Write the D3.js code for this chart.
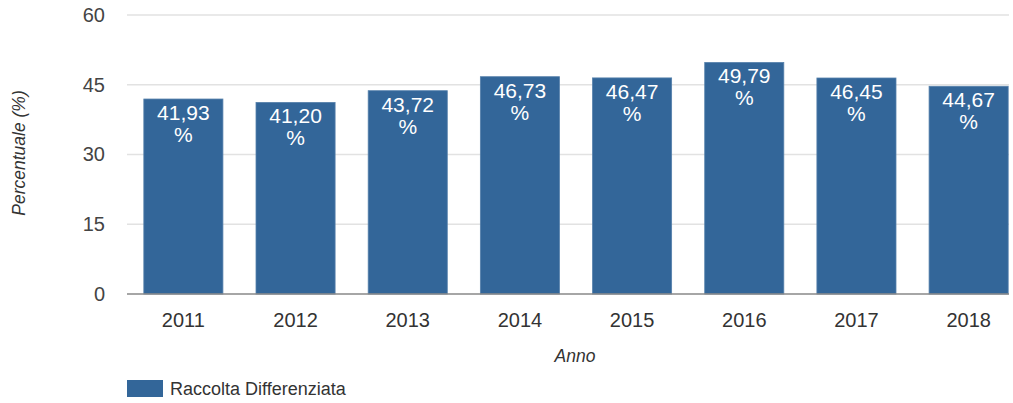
<!DOCTYPE html>
<html>
<head>
<meta charset="utf-8">
<script src="https://cdn.jsdelivr.net/npm/d3@7"></script>
<style>
  html, body { margin: 0; padding: 0; background: #fff; }
  svg { display: block; font-family: "Liberation Sans", Arial, sans-serif; }
</style>
</head>
<body>
<svg id="chart" width="1013" height="403"></svg>
<script>
// Percentuale di raccolta differenziata per anno
const years = ["2011", "2012", "2013", "2014", "2015", "2016", "2017", "2018"];
const values = [41.93, 41.20, 43.72, 46.73, 46.47, 49.79, 46.45, 44.67];
const yTicks = [0, 15, 30, 45, 60];
const seriesName = "Raccolta Differenziata";
const xTitle = "Anno";
const yTitle = "Percentuale (%)";

const svg = d3.select("#chart");
const plotLeft = 127, plotRight = 1009, plotTop = 15, plotBottom = 294;

const x = d3.scaleBand()
  .domain(years)
  .range([plotLeft, 1025])
  .paddingInner(0.295)
  .paddingOuter(0.15);

const y = d3.scaleLinear().domain([0, 60]).range([plotBottom, plotTop]);

const fmt = v => v.toFixed(2).replace(".", ",");

// gridlines
svg.append("g")
  .selectAll("line")
  .data(yTicks.filter(d => d !== 0))
  .join("line")
  .attr("x1", plotLeft).attr("x2", plotRight)
  .attr("y1", d => y(d)).attr("y2", d => y(d))
  .attr("stroke", "#e2e2e2")
  .attr("stroke-width", 1.5);

// y axis tick labels
const yAxis = svg.append("g")
  .attr("transform", `translate(${plotLeft},0)`)
  .call(d3.axisLeft(y).tickValues(yTicks).tickSize(0).tickPadding(22));
yAxis.select(".domain").remove();
yAxis.selectAll("text")
  .attr("font-size", 20)
  .attr("fill", "#444")
  .attr("font-family", "Liberation Sans, Arial, sans-serif");

// bars
svg.append("g")
  .selectAll("rect")
  .data(years.map((yr, i) => ({ yr, v: values[i] })))
  .join("rect")
  .attr("x", d => x(d.yr))
  .attr("width", x.bandwidth())
  .attr("y", d => y(d.v))
  .attr("height", d => y(0) - y(d.v))
  .attr("fill", "#336699")
  .attr("stroke", "#5580ab")
  .attr("stroke-width", 0.8);

// value labels inside bars
const labels = svg.append("g")
  .selectAll("text")
  .data(years.map((yr, i) => ({ yr, v: values[i] })))
  .join("text")
  .attr("x", d => x(d.yr) + x.bandwidth() / 2)
  .attr("y", d => y(d.v) + 21)
  .attr("text-anchor", "middle")
  .attr("font-size", 21)
  .attr("fill", "#fff");
labels.append("tspan").text(d => fmt(d.v));
labels.append("tspan")
  .attr("x", d => x(d.yr) + x.bandwidth() / 2)
  .attr("dy", 22)
  .text("%");

// baseline
svg.append("line")
  .attr("x1", plotLeft).attr("x2", plotRight)
  .attr("y1", y(0)).attr("y2", y(0))
  .attr("stroke", "#888")
  .attr("stroke-width", 1.5);

// x axis labels
const xAxis = svg.append("g")
  .attr("transform", `translate(0,${plotBottom})`)
  .call(d3.axisBottom(x).tickSize(0).tickPadding(19));
xAxis.select(".domain").remove();
xAxis.selectAll("text")
  .attr("font-size", 20)
  .attr("fill", "#333")
  .attr("font-family", "Liberation Sans, Arial, sans-serif");

// axis titles
svg.append("text")
  .attr("x", 575).attr("y", 362)
  .attr("text-anchor", "middle")
  .attr("font-size", 17.5)
  .attr("font-style", "italic")
  .attr("fill", "#333")
  .text(xTitle);

svg.append("text")
  .attr("transform", `translate(25,153) rotate(-90)`)
  .attr("text-anchor", "middle")
  .attr("font-size", 17.5)
  .attr("font-style", "italic")
  .attr("fill", "#333")
  .text(yTitle);

// legend
const legend = svg.append("g").attr("transform", "translate(127,380)");
legend.append("rect")
  .attr("width", 36).attr("height", 17)
  .attr("fill", "#336699");
legend.append("text")
  .attr("x", 43).attr("y", 15)
  .attr("font-size", 18)
  .attr("fill", "#333")
  .text(seriesName);
</script>
</body>
</html>
